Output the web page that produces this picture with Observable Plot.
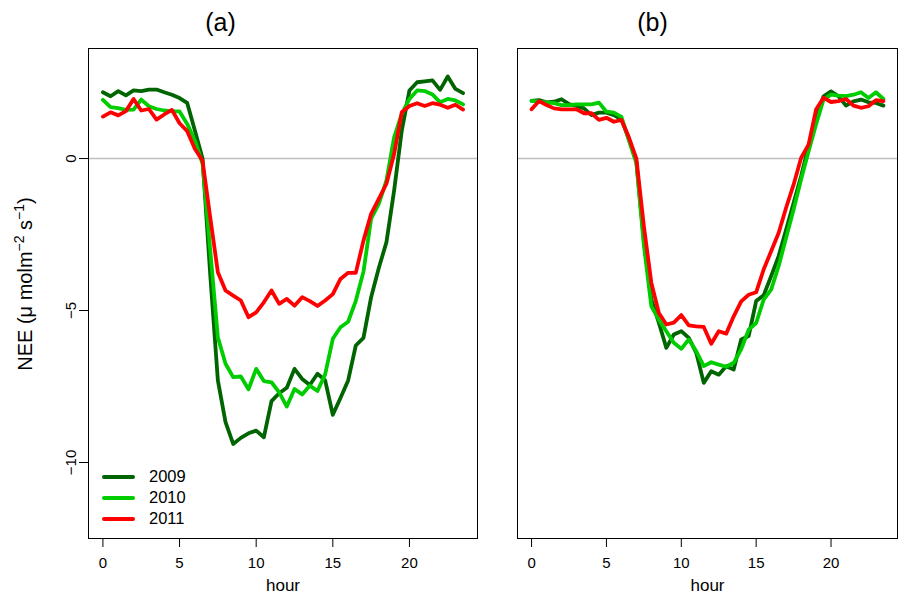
<!DOCTYPE html>
<html><head><meta charset="utf-8">
<script src="https://cdn.jsdelivr.net/npm/d3@7"></script>
<script src="https://cdn.jsdelivr.net/npm/@observablehq/plot@0.6"></script>
<style>
body{margin:0;background:#fff;}
#wrap{position:relative;width:902px;height:594px;display:flex;font-family:"Liberation Sans",Arial,sans-serif;}
#legend{position:absolute;left:102px;top:466px;font-size:16.5px;color:#000;}
.row{display:flex;align-items:center;height:21px;}
.sw{width:33px;height:4px;margin-right:14px;border-radius:2px;}
</style></head><body><div id="wrap"></div>
<script>
const hours = [0,0.5,1,1.5,2,2.5,3,3.5,4,4.5,5,5.5,6,6.5,7,7.5,8,8.5,9,9.5,10,10.5,11,11.5,
  12,12.5,13,13.5,14,14.5,15,15.5,16,16.5,17,17.5,18,18.5,19,19.5,20,20.5,21,21.5,22,22.5,23,23.5];
const years = ["2009","2010","2011"];
const colors = ["#006400","#00CD00","#FF0000"];
const panelTitles = ["(a)","(b)"];
const xTicks = [0,5,10,15,20];
const yTicks = [-10,-5,0];

// Panel (a)
const a2009 = [2.18,2.05,2.22,2.08,2.24,2.22,2.27,2.27,2.18,2.1,1.99,1.83,0.92,0.0,-3.8,-7.3,-8.67,-9.39,-9.19,-9.04,-8.95,-9.17,-7.98,-7.72,
  -7.54,-6.92,-7.25,-7.45,-7.08,-7.3,-8.43,-7.88,-7.3,-6.15,-5.9,-4.56,-3.6,-2.75,-1.05,0.92,2.24,2.51,2.54,2.57,2.26,2.7,2.29,2.15];
const a2010 = [1.93,1.69,1.66,1.6,1.61,1.94,1.72,1.63,1.58,1.55,1.55,1.14,0.59,-0.17,-3.0,-5.88,-6.75,-7.19,-7.17,-7.59,-6.92,-7.32,-7.36,-7.69,
  -8.16,-7.58,-7.76,-7.47,-7.65,-7.1,-5.93,-5.55,-5.37,-4.68,-3.72,-1.98,-1.49,-0.72,0.7,1.47,1.96,2.24,2.22,2.11,1.85,1.96,1.91,1.78];
const a2011 = [1.38,1.52,1.42,1.56,1.96,1.58,1.63,1.28,1.45,1.6,1.16,0.9,0.32,-0.07,-1.93,-3.74,-4.34,-4.51,-4.67,-5.22,-5.06,-4.73,-4.34,-4.78,
  -4.62,-4.84,-4.56,-4.69,-4.85,-4.67,-4.46,-3.96,-3.76,-3.76,-2.7,-1.82,-1.33,-0.83,0.15,1.52,1.73,1.82,1.73,1.82,1.77,1.67,1.77,1.61];
// Panel (b)
const b2009 = [1.9,1.92,1.85,1.87,1.95,1.79,1.73,1.65,1.43,1.51,1.51,1.43,1.29,0.65,-0.1,-2.7,-4.64,-5.4,-6.23,-5.79,-5.68,-5.9,-6.39,-7.38,
  -7.0,-7.11,-6.83,-6.94,-5.95,-5.84,-4.69,-4.5,-3.87,-3.21,-2.34,-1.46,-0.58,0.41,1.28,2.05,2.21,2.05,1.74,1.88,1.94,1.85,1.83,1.74];
const b2010 = [1.9,1.87,1.84,1.82,1.76,1.76,1.78,1.78,1.78,1.84,1.54,1.51,1.37,0.6,-0.15,-2.85,-4.86,-5.3,-5.68,-6.06,-6.26,-5.95,-6.34,-6.83,
  -6.7,-6.78,-6.85,-6.72,-6.28,-5.63,-5.41,-4.64,-4.31,-3.54,-2.61,-1.68,-0.69,0.24,1.12,1.94,2.1,2.07,2.05,2.1,2.18,1.99,2.18,1.96];
const b2011 = [1.62,1.89,1.76,1.65,1.62,1.62,1.62,1.49,1.49,1.27,1.34,1.21,1.27,0.7,0.0,-2.23,-4.09,-5.08,-5.46,-5.4,-5.15,-5.49,-5.52,-5.54,
  -6.09,-5.68,-5.76,-5.19,-4.7,-4.48,-4.4,-3.65,-3.05,-2.45,-1.62,-0.86,0.02,0.46,1.61,2.0,1.86,1.89,1.96,1.74,1.67,1.72,1.92,1.89];

const panels = [[a2009,a2010,a2011],[b2009,b2010,b2011]];
const font = '"Liberation Sans", Arial, Helvetica, sans-serif';

function rows(series) {
  return series.flatMap((vals, i) => vals.map((v, j) => ({hour: hours[j], nee: v, year: years[i]})));
}

function panel(idx) {
  const data = rows(panels[idx]);
  const isA = idx === 0;
  const marks = [
    Plot.ruleY([0], {stroke: "#bebebe", strokeWidth: 1.5}),
    Plot.line(data, {x: "hour", y: "nee", z: "year", stroke: "year", strokeWidth: 3.8,
      strokeLinejoin: "round", strokeLinecap: "round"}),
    Plot.frame({stroke: "#000", strokeWidth: 1}),
    Plot.axisX({ticks: xTicks, tickSize: 9, tickPadding: 10, fontSize: 15, label: null}),
    Plot.axisX({ticks: [], tickSize: 0, fontSize: 17,
      label: "hour", labelAnchor: "center", labelArrow: "none", labelOffset: 52}),
    Plot.text([panelTitles[idx]], {frameAnchor: "top-left", dx: isA ? 132 : 135, dy: -26,
      fontSize: 25, textAnchor: "middle", lineAnchor: "middle"})
  ];
  if (isA) {
    marks.push(Plot.axisY({ticks: yTicks, tickSize: 9, tickPadding: 4, tickRotate: -90, fontSize: 15, label: null}));
  }
  return Plot.plot({
    width: isA ? 497 : 405,
    height: 594,
    marginLeft: isA ? 88 : 20,
    marginRight: isA ? 20 : 5,
    marginTop: 48,
    marginBottom: 56,
    style: {fontFamily: font, fontSize: "15px", background: "#fff", color: "#000", overflow: "visible"},
    x: {domain: [-0.94, 24.44]},
    y: {domain: [-12.5, 3.62], axis: isA ? undefined : null},
    color: {domain: years, range: colors},
    marks
  });
}

const wrap = document.getElementById("wrap");
const svgA = panel(0);
wrap.appendChild(svgA);
wrap.appendChild(panel(1));

// y-axis title with real superscripts
const lab = d3.select(svgA).append("text")
  .attr("transform", "translate(32,284) rotate(-90)")
  .attr("text-anchor", "middle")
  .attr("font-family", font)
  .attr("font-size", 20)
  .attr("fill", "#000");
lab.append("tspan").text("NEE (μ molm");
lab.append("tspan").attr("font-size", 14).attr("dy", -8).text("−2");
lab.append("tspan").attr("dy", 8).text(" s");
lab.append("tspan").attr("font-size", 14).attr("dy", -8).text("−1");
lab.append("tspan").attr("dy", 8).text(")");

const legend = document.createElement("div");
legend.id = "legend";
years.forEach((y, i) => {
  const r = document.createElement("div");
  r.className = "row";
  const sw = document.createElement("div");
  sw.className = "sw";
  sw.style.background = colors[i];
  const t = document.createElement("span");
  t.textContent = y;
  r.appendChild(sw); r.appendChild(t);
  legend.appendChild(r);
});
wrap.appendChild(legend);
</script></body></html>
